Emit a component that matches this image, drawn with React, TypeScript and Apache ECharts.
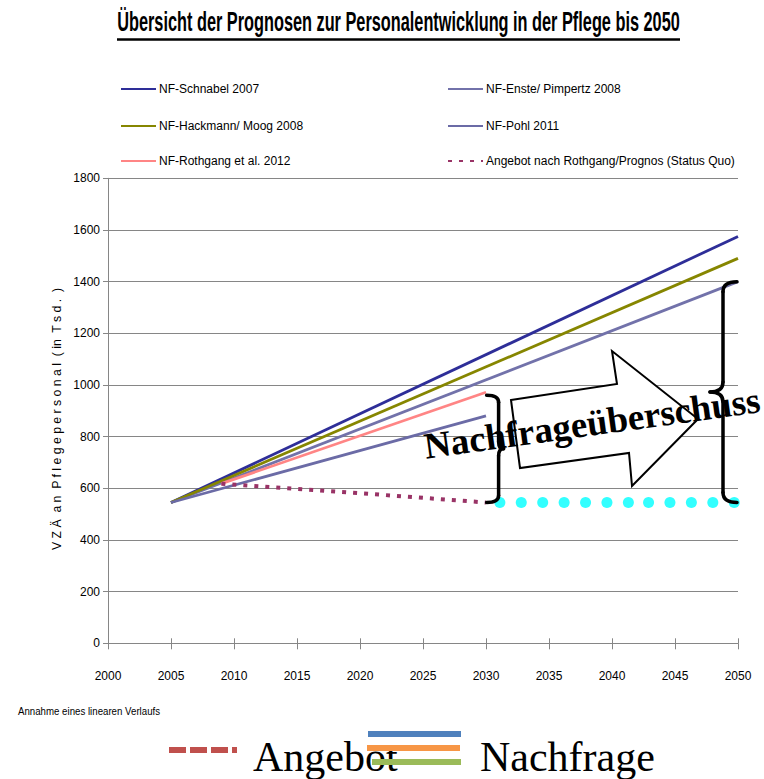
import React, { useEffect, useRef } from "react";
import * as echarts from "echarts";

// ---------- data ----------
const xMin = 2000;
const xMax = 2050;
const xStep = 5;
const yMin = 0;
const yMax = 1800;
const yStep = 200;

const seriesNames = [
  "NF-Schnabel 2007",
  "NF-Enste/ Pimpertz 2008",
  "NF-Hackmann/ Moog 2008",
  "NF-Pohl 2011",
  "NF-Rothgang et al. 2012",
  "Angebot nach Rothgang/Prognos (Status Quo)",
];
const schnabel = [[2005, 545], [2050, 1575]];
const enste = [[2005, 545], [2050, 1400]];
const hackmann = [[2005, 545], [2050, 1490]];
const pohl = [[2005, 545], [2030, 880]];
const rothgang = [[2009, 618], [2030, 972]];
const angebot = [[2009, 618], [2020, 581], [2030, 545]];
const surplusYears = [2031.1, 2032.8, 2034.5, 2036.2, 2037.9, 2039.6, 2041.3, 2042.9, 2044.6, 2046.3, 2048.0, 2049.7];
const surplusLevel = 545;
const rothgangTop = 972;
const ensteTop = 1400;

const titleText = "Übersicht der Prognosen zur Personalentwicklung in der Pflege bis 2050";
const yLabelText = "V Z Ä  a n  P f l e g e p e r s o n a l  ( in  T s d .  )";
const footnoteText = "Annahme eines linearen Verlaufs";
const arrowText = "Nachfrageüberschuss";
const angebotText = "Angebot";
const nachfrageText = "Nachfrage";

// ---------- styles ----------
const SANS = "'Liberation Sans', Arial, sans-serif";
const SERIF = "'Liberation Serif', 'DejaVu Serif', serif";
const colors = ["#2E2E98", "#7272AA", "#868600", "#6B6BA6", "#FF8585", "#993366"];
const gridColor = "#868686";

function measure(text: string, font: string): number {
  const c = document.createElement("canvas").getContext("2d");
  if (!c) return 0;
  c.font = font;
  return c.measureText(text).width;
}

function brace(x: number, y1: number, y2: number, dir: number, w: number, p: number, r: number) {
  const ym = (y1 + y2) / 2;
  const st = { stroke: "#000", lineWidth: 3.5, fill: "none", lineCap: "round" };
  const cx = x - dir * w;
  return [
    { type: "bezierCurve", shape: { x1: cx, y1: y1, x2: x, y2: y1 + r, cpx1: x, cpy1: y1 }, style: st },
    { type: "line", shape: { x1: x, y1: y1 + r, x2: x, y2: ym - r }, style: st },
    { type: "bezierCurve", shape: { x1: x, y1: ym - r, x2: x + dir * p, y2: ym, cpx1: x, cpy1: ym }, style: st },
    { type: "bezierCurve", shape: { x1: x + dir * p, y1: ym, x2: x, y2: ym + r, cpx1: x, cpy1: ym }, style: st },
    { type: "line", shape: { x1: x, y1: ym + r, x2: x, y2: y2 - r }, style: st },
    { type: "bezierCurve", shape: { x1: x, y1: y2 - r, x2: cx, y2: y2, cpx1: x, cpy1: y2 }, style: st },
  ];
}

export default function App() {
  const ref = useRef<HTMLDivElement>(null);
  useEffect(() => {
    if (!ref.current) return;
    const chart = echarts.init(ref.current, undefined, { renderer: "svg" });
    const lineData = [schnabel, enste, hackmann, pohl, rothgang];
    const legendPos = [
      [120, 83], [447, 83], [120, 120], [447, 120], [120, 155], [447, 155],
    ];
    const series: any[] = lineData.map((d, i) => ({
      name: seriesNames[i],
      type: "line",
      data: d,
      symbol: "none",
      lineStyle: { color: colors[i], width: 2.8 },
      itemStyle: { color: colors[i] },
      z: 2,
    }));
    series.push({
      name: seriesNames[5],
      type: "line",
      data: angebot,
      symbol: "none",
      lineStyle: { color: colors[5], width: 4, type: [4, 7] },
      itemStyle: { color: colors[5] },
      z: 3,
    });
    series.push({
      name: "surplus",
      type: "scatter",
      data: surplusYears.map((x) => [x, surplusLevel]),
      symbol: "circle",
      symbolSize: 11,
      itemStyle: { color: "#00FFFF" },
      z: 5,
    });

    const plain = (v: number) => String(v);

    chart.setOption({
      animation: false,
      grid: { left: 108, right: 26, top: 178.3, bottom: 135.7 },
      legend: seriesNames.map((n, i) => ({
        data: [n],
        left: legendPos[i][0],
        top: legendPos[i][1],
        itemWidth: 35,
        itemHeight: 14,
        padding: 0,
        itemStyle: { opacity: 0 },
        textStyle: { fontFamily: SANS, fontSize: 12, color: "#000", padding: [0, 0, 0, -2] },
        selectedMode: false,
      })),
      xAxis: [
        {
          type: "value",
          min: xMin,
          max: xMax,
          interval: xStep,
          axisLine: { lineStyle: { color: gridColor, width: 1 } },
          axisTick: { show: true, length: 6, lineStyle: { color: gridColor } },
          axisLabel: { fontFamily: SANS, fontSize: 12, color: "#000", margin: 27, formatter: plain },
          splitLine: { show: false },
        },
        {
          type: "value",
          min: xMin,
          max: xMax,
          interval: xStep,
          position: "bottom",
          axisLine: { show: false },
          axisTick: { show: true, inside: true, length: 5, lineStyle: { color: gridColor } },
          axisLabel: { show: false },
          splitLine: { show: false },
        },
      ],
      yAxis: {
        type: "value",
        min: yMin,
        max: yMax,
        interval: yStep,
        axisLine: { show: true, lineStyle: { color: gridColor, width: 1 } },
        axisTick: { show: true, length: 5, lineStyle: { color: gridColor } },
        axisLabel: { fontFamily: SANS, fontSize: 12, color: "#000", margin: 8, formatter: plain },
        splitLine: { show: true, lineStyle: { color: gridColor, width: 1 } },
      },
      series,
    });

    const px = (x: number, y: number) => chart.convertToPixel({ gridIndex: 0 }, [x, y]) as number[];
    const pBottom = px(2030, surplusLevel);
    const pTopSmall = px(2030, rothgangTop);
    const pTopBig = px(xMax, ensteTop);
    const xSmall = px(2031, surplusLevel)[0];
    const xBig = pTopBig[0] - 15;

    const titleFont = `bold 27px ${SANS}`;
    const titleW = measure(titleText, titleFont) || 563;
    const yLabFont = `13px ${SANS}`;
    const yLabW = measure(yLabelText, yLabFont) || 263;
    const footFont = `11px ${SANS}`;
    const footW = measure(footnoteText, footFont) || 142;

    const graphic: any[] = [
      // title
      {
        type: "text",
        x: 398.5,
        y: 22,
        scaleX: 563 / titleW,
        style: { text: titleText, font: titleFont, fill: "#000", align: "center", verticalAlign: "middle" },
      },
      { type: "line", shape: { x1: 117, y1: 39.5, x2: 680, y2: 39.5 }, style: { stroke: "#000", lineWidth: 2.5 } },
      // y axis name
      {
        type: "text",
        x: 57,
        y: 419,
        rotation: Math.PI / 2,
        scaleX: 263 / yLabW,
        style: { text: yLabelText, font: yLabFont, fill: "#000", align: "center", verticalAlign: "middle" },
      },
      // footnote
      {
        type: "text",
        x: 18,
        y: 711,
        scaleX: 142 / footW,
        style: { text: footnoteText, font: footFont, fill: "#000", align: "left", verticalAlign: "middle" },
      },
      // arrow
      {
        type: "polygon",
        shape: { points: [[511, 400], [617, 384], [612, 351], [698, 419], [632, 486], [629, 453], [520, 468]] },
        style: { fill: "#fff", stroke: "#000", lineWidth: 2 },
        z: 10,
      },
      {
        type: "text",
        x: 592,
        y: 423,
        rotation: 0.138,
        z: 11,
        style: { text: arrowText, font: `bold 37px ${SERIF}`, fill: "#000", align: "center", verticalAlign: "middle" },
      },
      ...brace(xSmall, pTopSmall[1] + 3, pBottom[1], 1, 12, 5, 7).map((e) => ({ ...e, z: 12 })),
      ...brace(xBig, pTopBig[1], pBottom[1], -1, 14, 13, 10).map((e) => ({ ...e, z: 12 })),
      // bottom legend
      { type: "line", shape: { x1: 169, y1: 750, x2: 237, y2: 750 }, style: { stroke: "#C0504D", lineWidth: 6, lineDash: [17, 4] } },
      {
        type: "text", x: 253, y: 757,
        style: { text: angebotText, font: `42px ${SERIF}`, fill: "#000", align: "left", verticalAlign: "middle" },
      },
      {
        type: "text", x: 480, y: 757,
        style: { text: nachfrageText, font: `42px ${SERIF}`, fill: "#000", align: "left", verticalAlign: "middle" },
      },
      { type: "line", shape: { x1: 368, y1: 734, x2: 461, y2: 734 }, style: { stroke: "#4F81BD", lineWidth: 6 } },
      { type: "line", shape: { x1: 367, y1: 748, x2: 460, y2: 748 }, style: { stroke: "#F79646", lineWidth: 6 } },
      { type: "line", shape: { x1: 372, y1: 762, x2: 461, y2: 762 }, style: { stroke: "#9BBB59", lineWidth: 6 } },
    ];
    chart.setOption({ graphic });
    return () => chart.dispose();
  }, []);
  return <div ref={ref} style={{ position: "fixed", left: 0, top: 0, width: 764, height: 779, background: "#fff" }} />;
}
